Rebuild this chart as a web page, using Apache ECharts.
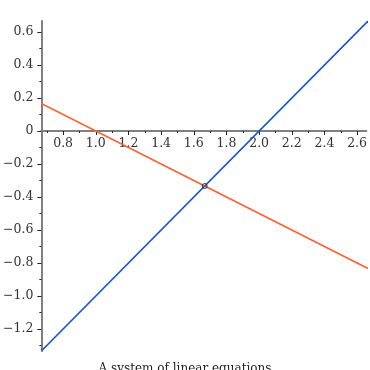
<!DOCTYPE html>
<html><head><meta charset="utf-8">
<script src="https://cdn.jsdelivr.net/npm/echarts@6/dist/echarts.min.js"></script>
<style>html,body{margin:0;padding:0;background:#fff}#c{width:370px;height:370px}</style>
</head><body><div id="c"></div>
<script>
// Data
const lineX = [0.6667, 2.6667];
const blueY = [-1.3333, 0.6667];   // y = x - 2
const orangeY = [0.1667, -0.8333]; // y = -x/2 + 1/2
const intersection = [1.6667, -0.3333];
const xMajorTicks = [0.8, 1.0, 1.2, 1.4, 1.6, 1.8, 2.0, 2.2, 2.4, 2.6];
const xMinorTicks = [0.7, 0.9, 1.1, 1.3, 1.5, 1.7, 1.9, 2.1, 2.3, 2.5];
const yMajorTicks = [-1.2, -1.0, -0.8, -0.6, -0.4, -0.2, 0, 0.2, 0.4, 0.6];
const yMinorTicks = [-1.3, -1.1, -0.9, -0.7, -0.5, -0.3, -0.1, 0.1, 0.3, 0.5];
const xRange = [0.6667, 2.6565];
const yRange = [-1.3333, 0.6667];
const title = 'A system of linear equations';

const font = 'DejaVu Serif';
function fmt(v){
  if (Math.abs(v) < 1e-9) return '0';
  const s = Math.abs(v).toFixed(1);
  return v < 0 ? '\u2212' + s : s;
}
const gridTop = 21, gridH = 330;
const zeroOffset = -gridH * (0 - yRange[0]) / (yRange[1] - yRange[0]);
const chart = echarts.init(document.getElementById('c'), null, {renderer:'canvas'});
const axisLineStyle = {color:'#808080', width:2};
chart.setOption({
  animation:false,
  title:{text:title, left:'center', top:358, textStyle:{fontFamily:font, fontSize:12, fontWeight:'normal', color:'#222'}},
  grid:{left:39.7, top:gridTop, width:330.3, height:gridH, containLabel:false},
  xAxis:[{
    type:'value', min:xRange[0], max:xRange[1], position:'bottom', offset:zeroOffset,
    axisLine:{show:true, onZero:false, lineStyle:axisLineStyle},
    axisTick:{show:true, customValues:xMajorTicks, length:4, lineStyle:{color:'#222', width:1}},
    axisLabel:{show:true, customValues:xMajorTicks, formatter:fmt, margin:6, fontFamily:font, fontSize:12.5, color:'#333'},
    splitLine:{show:false}
  },{
    type:'value', min:xRange[0], max:xRange[1], position:'bottom', offset:zeroOffset,
    axisLine:{show:false, onZero:false},
    axisTick:{show:true, customValues:xMinorTicks, length:2, lineStyle:{color:'#222', width:1}},
    axisLabel:{show:false}, splitLine:{show:false}
  }],
  yAxis:[{
    type:'value', min:yRange[0], max:yRange[1], position:'left',
    axisLine:{show:true, onZero:false, lineStyle:axisLineStyle},
    axisTick:{show:true, customValues:yMajorTicks, length:4, lineStyle:{color:'#222', width:1}},
    axisLabel:{show:true, customValues:yMajorTicks, formatter:fmt, margin:8, fontFamily:font, fontSize:12.5, color:'#333'},
    splitLine:{show:false}
  },{
    type:'value', min:yRange[0], max:yRange[1], position:'left',
    axisLine:{show:false, onZero:false},
    axisTick:{show:true, customValues:yMinorTicks, length:2, lineStyle:{color:'#222', width:1}},
    axisLabel:{show:false}, splitLine:{show:false}
  }],
  series:[
    {type:'line', data:lineX.map((x,i)=>[x, orangeY[i]]), symbol:'none', lineStyle:{color:'#f2673a', width:1.7}, z:2},
    {type:'line', data:lineX.map((x,i)=>[x, blueY[i]]), symbol:'none', lineStyle:{color:'#1a56c2', width:1.7}, z:3},
    {type:'scatter', data:[intersection], symbol:'circle', symbolSize:5, itemStyle:{color:'rgba(0,0,0,0)', borderColor:'#111', borderWidth:1}, z:4}
  ]
});
</script></body></html>
